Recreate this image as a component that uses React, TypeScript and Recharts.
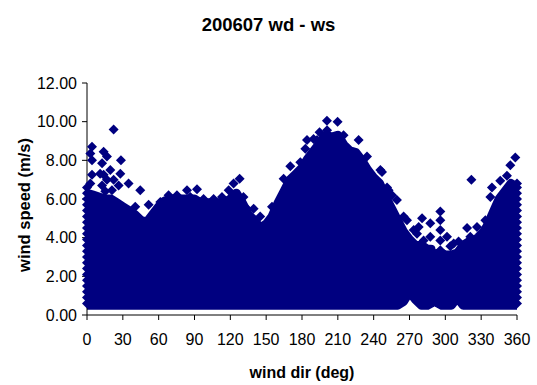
import { ComposedChart, Area, Scatter, XAxis, YAxis, Label } from 'recharts'

const NAVY = '#000080'
const FONT = '"Liberation Sans", Arial, sans-serif'

// the dense cloud, read as a band per direction: lower / upper speed (m/s)
const envDir = [
  0, 5, 10, 15, 20, 25, 30, 35, 40, 45, 50, 55, 60, 65, 70, 75, 80, 85, 90,
  95, 100, 105, 110, 115, 120, 125, 130, 135, 140, 145, 150, 155, 160, 165, 170,
  175, 180, 185, 190, 195, 200, 205, 210, 215, 220, 225, 230, 235, 240, 245, 250,
  255, 260, 265, 270, 275, 280, 285, 288, 290, 292, 294, 297, 300, 305, 310, 315,
  320, 325, 330, 335, 340, 345, 350, 355, 360,
]
const envHigh = [
  6.3, 6.2, 6.1, 6.0, 6.0, 5.8, 5.6, 5.4, 5.2, 4.9, 4.8, 5.2, 5.6, 5.9, 6.0, 6.0, 6.0, 6.0, 6.0,
  5.8, 5.8, 5.8, 5.8, 5.8, 6.0, 6.3, 5.8, 5.2, 4.9, 4.5, 4.7, 5.1, 5.8, 6.4, 7.0,
  7.3, 7.6, 8.1, 8.5, 8.9, 9.3, 9.2, 9.3, 8.8, 8.5, 8.4, 8.0, 7.5, 7.1, 6.8, 6.1,
  5.5, 4.9, 4.3, 3.9, 3.6, 3.6, 3.4, 3.4, 1.9, 1.9, 3.2, 3.2, 3.1, 3.1, 3.2, 3.6,
  3.8, 3.9, 4.1, 4.6, 5.3, 6.0, 6.4, 6.8, 6.6,
]
const envLow = [
  0.5, 0.5, 0.5, 0.5, 0.5, 0.5, 0.5, 0.5, 0.5, 0.5, 0.5, 0.5, 0.5, 0.5, 0.5, 0.5, 0.5, 0.5, 0.5,
  0.5, 0.5, 0.5, 0.5, 0.5, 0.5, 0.5, 0.5, 0.5, 0.5, 0.5, 0.5, 0.5, 0.5, 0.5, 0.5,
  0.5, 0.5, 0.5, 0.5, 0.5, 0.5, 0.5, 0.5, 0.5, 0.5, 0.5, 0.5, 0.5, 0.5, 0.5, 0.5,
  0.5, 0.5, 0.7, 1.2, 0.8, 0.5, 0.5, 0.6, 0.85, 0.85, 0.6, 0.5, 0.5, 0.5, 0.9, 0.5,
  0.5, 0.5, 0.5, 0.5, 0.5, 0.5, 0.5, 0.5, 0.5,
]

// single readings that stick out of the cloud, plus the packed columns at 0 and 360: [dir, speed]
const outliers: [number, number][] = [
  [0, 0.6], [0, 0.9], [0, 1.2], [0, 1.5], [0, 1.8], [0, 2.1], [0, 2.4], [0, 2.7],
  [0, 3.0], [0, 3.3], [0, 3.6], [0, 3.9], [0, 4.2], [0, 4.5], [0, 4.8], [0, 5.1],
  [0, 5.4], [0, 5.7], [0, 6.0], [0, 6.3], [0, 6.6],
  [2.8, 6.8], [2.8, 8.35], [4.2, 8.7], [4.2, 8.0], [4.2, 7.25], [11, 7.3],
  [12.6, 7.85], [12.6, 6.7], [13.9, 8.45], [13.9, 7.25], [15.3, 6.4], [16.7, 8.2],
  [16.7, 7.0], [19.5, 7.5], [20.9, 6.45], [22.3, 9.6], [22.3, 7.0], [26.5, 6.7],
  [27.9, 7.3], [28.4, 8.0], [34.8, 6.8], [40.4, 5.6], [44.6, 6.45], [51.6, 5.7],
  [61.4, 5.85], [68.3, 6.2], [75.3, 6.2], [83.7, 6.45], [86.5, 6.1], [92.1, 6.5],
  [97.6, 6.0], [106, 6.0], [113, 6.1], [118.6, 6.45], [122.7, 6.8], [127.8, 7.05],
  [131, 6.1], [134, 5.5], [139.5, 5.5], [145, 5.1], [146.5, 4.55], [154.9, 5.6],
  [164.6, 7.05], [170.2, 7.7], [178.6, 7.9], [182.8, 8.6], [184.2, 9.05],
  [189.7, 9.1], [192.6, 9.05], [194.7, 9.45], [200.9, 10.05], [201, 9.55],
  [209.8, 10.0], [214.8, 9.3], [227.4, 9.05], [234.4, 8.2], [245.6, 7.5],
  [247, 7.4], [251.2, 6.6], [252.5, 6.45], [255.4, 6.2], [259.5, 5.95],
  [265.1, 5.1], [267.9, 4.9], [273.5, 4.4], [276.3, 4.2], [277.7, 4.55],
  [280.5, 5.0], [281.8, 3.85], [286, 3.35], [287.4, 4.75], [287.4, 4.05],
  [295.8, 5.35], [295.8, 4.9], [295.8, 4.4], [295.8, 3.85], [295.8, 3.35],
  [295.8, 2.85], [297.2, 2.3], [301.4, 4.05], [304.2, 3.55], [307, 3.7],
  [311.1, 3.8], [318.2, 4.5], [320.9, 4.05], [321.8, 7.0], [326.5, 4.55],
  [329.3, 4.2], [333.5, 4.9], [337.7, 6.1], [339, 6.6], [346, 6.95], [351.6, 7.2],
  [354.4, 7.75], [358.6, 8.15],
  [360, 0.6], [360, 0.9], [360, 1.2], [360, 1.5], [360, 1.8], [360, 2.1], [360, 2.4],
  [360, 2.7], [360, 3.0], [360, 3.3], [360, 3.6], [360, 3.9], [360, 4.2], [360, 4.5],
  [360, 4.8], [360, 5.1], [360, 5.4], [360, 5.7], [360, 6.0], [360, 6.3], [360, 6.6],
  [360, 6.8],
]

const xTicks = [0, 30, 60, 90, 120, 150, 180, 210, 240, 270, 300, 330, 360]
const yTicks = [0, 2, 4, 6, 8, 10, 12]

const bandData = envDir.map((d, i) => ({ dir: d, band: [envLow[i], envHigh[i]] }))
const pointData = outliers.map(([d, s]) => ({ dir: d, speed: s }))

const Diamond = (props: any) => {
  const { cx, cy } = props
  const r = 5
  return <path d={`M${cx},${cy - r}L${cx + r},${cy}L${cx},${cy + r}L${cx - r},${cy}Z`} fill={NAVY} />
}

const tickStyle = { fontSize: 16, fill: '#000', fontFamily: FONT }

export default function App() {
  return (
    <div style={{ position: 'absolute', left: 0, top: 0, width: 537, height: 385, background: '#fff' }}>
      <div
        style={{
          position: 'absolute',
          left: 0,
          top: 16,
          width: 537,
          textAlign: 'center',
          fontFamily: FONT,
          fontWeight: 'bold',
          fontSize: 18.5,
          lineHeight: '18px',
          color: '#000',
        }}
      >
        200607 wd - ws
      </div>
      <ComposedChart width={537} height={385} margin={{ top: 83, right: 20, left: 0, bottom: 0 }}>
        <XAxis
          type="number"
          dataKey="dir"
          domain={[0, 360]}
          ticks={xTicks}
          interval={0}
          tickSize={5}
          tickMargin={14}
          height={70}
          tick={tickStyle}
          axisLine={{ stroke: '#000' }}
          tickLine={{ stroke: '#000' }}
        >
          <Label
            content={({ viewBox }: any) => (
              <text
                x={viewBox.x + viewBox.width / 2}
                y={378}
                textAnchor="middle"
                fontFamily={FONT}
                fontWeight="bold"
                fontSize={16}
                fill="#000"
              >
                wind dir (deg)
              </text>
            )}
          />
        </XAxis>
        <YAxis
          type="number"
          domain={[0, 12]}
          ticks={yTicks}
          interval={0}
          width={87}
          tickSize={5}
          tickMargin={5}
          tick={tickStyle}
          tickFormatter={(v: number) => v.toFixed(2)}
          axisLine={{ stroke: '#000' }}
          tickLine={{ stroke: '#000' }}
        >
          <Label
            content={() => (
              <text
                x={30}
                y={205}
                transform="rotate(-90, 30, 205)"
                textAnchor="middle"
                fontFamily={FONT}
                fontWeight="bold"
                fontSize={16.5}
                fill="#000"
              >
                wind speed (m/s)
              </text>
            )}
          />
        </YAxis>
        <Area
          data={bandData}
          dataKey="band"
          type="linear"
          fill={NAVY}
          fillOpacity={1}
          stroke={NAVY}
          strokeWidth={9}
          strokeLinejoin="round"
          isAnimationActive={false}
          activeDot={false}
          dot={false}
        />
        <Scatter data={pointData} dataKey="speed" shape={Diamond} isAnimationActive={false} />
      </ComposedChart>
    </div>
  )
}
